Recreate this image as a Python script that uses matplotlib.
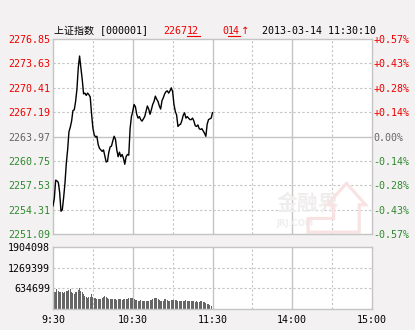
import matplotlib.pyplot as plt
from matplotlib.patches import Polygon

# ---- data ----
prev_close = 2263.97
price_ticks = [2251.09, 2254.31, 2257.53, 2260.75, 2263.97,
               2267.19, 2270.41, 2273.63, 2276.85]
pct_labels = ["-0.57%", "-0.43%", "-0.28%", "-0.14%", "0.00%",
              "+0.14%", "+0.28%", "+0.43%", "+0.57%"]
vol_ticks = [634699, 1269399, 1904098]
time_ticks = [0, 60, 120, 180, 240]
time_labels = ["9:30", "10:30", "11:30", "14:00", "15:00"]

# one value per minute, 9:30 .. 11:30
prices = [
    2254.8, 2255.8, 2258.2, 2258.1, 2257.9, 2256.6, 2254.1, 2254.3, 2255.9, 2257.8,
    2260.4, 2262.2, 2264.6, 2265.2, 2266.0, 2267.4, 2267.5, 2268.6, 2270.2, 2273.0,
    2274.6, 2273.0, 2271.5, 2269.6, 2269.7, 2269.4, 2269.7, 2269.5, 2269.2, 2267.0,
    2265.1, 2264.2, 2263.9, 2264.0, 2262.9, 2262.4, 2262.2, 2262.0, 2262.2, 2261.4,
    2260.6, 2260.7, 2261.9, 2262.6, 2262.7, 2263.4, 2264.0, 2263.6, 2262.2, 2261.3,
    2261.9, 2261.3, 2261.6, 2261.1, 2260.3, 2261.3, 2261.6, 2261.5, 2265.0, 2266.6,
    2267.3, 2268.2, 2267.9, 2266.9, 2266.4, 2266.6, 2266.2, 2266.0, 2266.3, 2266.6,
    2267.3, 2268.0, 2267.6, 2266.9, 2267.5, 2268.2, 2268.6, 2269.3, 2268.9, 2268.6,
    2268.0, 2267.6, 2268.7, 2269.1, 2269.6, 2269.9, 2270.0, 2269.7, 2270.0, 2270.4,
    2269.9, 2268.2, 2267.3, 2266.8, 2265.3, 2265.5, 2265.6, 2266.1, 2266.8, 2267.1,
    2266.4, 2266.6, 2266.4, 2266.2, 2266.2, 2266.4, 2266.0, 2265.4, 2265.3, 2265.5,
    2265.0, 2264.9, 2265.0, 2264.7, 2264.4, 2264.0, 2265.6, 2266.2, 2266.3, 2266.4,
    2267.12,
]

volumes = [
    1904098, 534000, 514000, 615000, 554000, 534000, 514000, 514000, 494000, 534000,
    564000, 554000, 574000, 605000, 534000, 484000, 463000, 514000, 534000, 574000,
    655000, 554000, 514000, 463000, 413000, 373000, 353000, 373000, 373000, 453000,
    383000, 353000, 332000, 312000, 312000, 292000, 312000, 353000, 373000, 393000,
    373000, 353000, 312000, 302000, 292000, 312000, 322000, 302000, 282000, 302000,
    322000, 292000, 282000, 312000, 302000, 292000, 312000, 332000, 353000, 353000,
    332000, 312000, 262000, 262000, 232000, 242000, 282000, 252000, 252000, 232000,
    232000, 242000, 242000, 262000, 262000, 302000, 332000, 353000, 353000, 312000,
    272000, 252000, 232000, 232000, 292000, 292000, 262000, 252000, 252000, 262000,
    262000, 272000, 282000, 282000, 232000, 232000, 232000, 242000, 242000, 252000,
    262000, 252000, 242000, 242000, 232000, 232000, 232000, 222000, 232000, 222000,
    222000, 232000, 232000, 212000, 202000, 191000, 151000, 141000, 131000, 101000,
    0,
]
minutes = list(range(len(prices)))

# ---- style ----
bg = "#f3f1f1"
red = "#ee0000"
green = "#2e8b2e"
grey = "#666666"
border = "#c4c4c4"
mono = ["DejaVu Sans Mono", "Noto Sans CJK SC"]
fs = 7.2

plt.rcParams["font.family"] = mono

fig = plt.figure(figsize=(4.15, 3.3), dpi=100, facecolor=bg)
W, H = 415, 330


def box(x0, y0, x1, y1):
    return [x0 / W, 1 - y1 / H, (x1 - x0) / W, (y1 - y0) / H]


ax = fig.add_axes(box(53, 39, 372, 234))
axv = fig.add_axes(box(53, 247, 372, 309))

for a in (ax, axv):
    a.set_facecolor("white")
    a.set_xlim(0, 240)
    for s in a.spines.values():
        s.set_color(border)
        s.set_linewidth(1.0)
    a.tick_params(length=0, labelsize=fs, pad=2)
    for m in (30, 90, 150, 210):
        a.axvline(m, color=border, lw=0.8, ls=(0, (2, 2)), zorder=0)
    for m in (60, 120, 180):
        a.axvline(m, color=border, lw=1.0, zorder=0)

# ---- price panel ----
ax.set_ylim(price_ticks[0], price_ticks[-1])
for p in price_ticks[1:-1]:
    if p == prev_close:
        ax.axhline(p, color=border, lw=1.0, zorder=0)
    else:
        ax.axhline(p, color=border, lw=0.8, ls=(0, (2, 2)), zorder=0)

ax.set_xticks([])
ax.set_yticks(price_ticks)
ax.set_yticklabels([f"{p:.2f}" for p in price_ticks])

axr = ax.twinx()
axr.set_ylim(price_ticks[0], price_ticks[-1])
axr.set_yticks(price_ticks)
axr.set_yticklabels(pct_labels)
axr.tick_params(length=0, labelsize=fs, pad=1)
for s in axr.spines.values():
    s.set_visible(False)

for labels in (ax.get_yticklabels(), axr.get_yticklabels()):
    for lab, p in zip(labels, price_ticks):
        if p > prev_close:
            lab.set_color(red)
        elif p < prev_close:
            lab.set_color(green)
        else:
            lab.set_color(grey)

# faint watermark
ax.text(0.8, 0.16, "金融界", transform=ax.transAxes, fontsize=15,
        family="Noto Sans CJK SC", fontweight="bold", color="#f0eded",
        ha="center", va="center", zorder=1)
ax.text(0.76, 0.055, "JRJ.COM", transform=ax.transAxes, fontsize=6,
        family="DejaVu Sans", fontweight="bold", color="#f0eded",
        ha="center", va="center", zorder=1)
house = Polygon([(0.80, 0.01), (0.80, 0.08), (0.88, 0.08), (0.88, 0.15),
                 (0.86, 0.15), (0.92, 0.26), (0.98, 0.15), (0.96, 0.15),
                 (0.96, 0.01)], closed=True, transform=ax.transAxes,
                fill=False, edgecolor="#f8e2e2", lw=2.2, zorder=1)
ax.add_patch(house)

ax.plot(minutes, prices, color="black", lw=1.0, zorder=3)

# ---- volume panel ----
axv.set_ylim(0, vol_ticks[-1])
for v in vol_ticks[:-1]:
    axv.axhline(v, color=border, lw=0.8, ls=(0, (2, 2)), zorder=0)
axv.bar(minutes, volumes, width=0.75, color="#666666", zorder=2)
axv.set_yticks(vol_ticks)
axv.set_yticklabels([str(v) for v in vol_ticks], color="black")
axv.set_xticks(time_ticks)
axv.set_xticklabels(time_labels, color="black")
axv.tick_params(axis="x", pad=4)

# ---- header ----
ty = 1 - 31 / H
fig.text(54 / W, ty, "上证指数 [000001]", fontsize=fs, color="black",
         va="center", ha="left")
fig.text(163 / W, ty, "2267", fontsize=fs, color=red, va="center")
fig.text(187 / W, ty, "12", fontsize=fs, color=red, va="center")
fig.text(222 / W, ty, "0", fontsize=fs, color=red, va="center")
fig.text(228 / W, ty, "14", fontsize=fs, color=red, va="center")
fig.text(241 / W, ty, "↑", fontsize=fs, color=red, va="center",
         family="DejaVu Sans")
fig.text(262 / W, ty, "2013-03-14 11:30:10", fontsize=fs, color="black",
         va="center")
uy = 1 - 36 / H
fig.add_artist(plt.Line2D([187 / W, 200 / W], [uy, uy], color=red, lw=0.8))
fig.add_artist(plt.Line2D([228 / W, 240 / W], [uy, uy], color=red, lw=0.8))

fig.savefig("out.png", dpi=100, facecolor=bg)
